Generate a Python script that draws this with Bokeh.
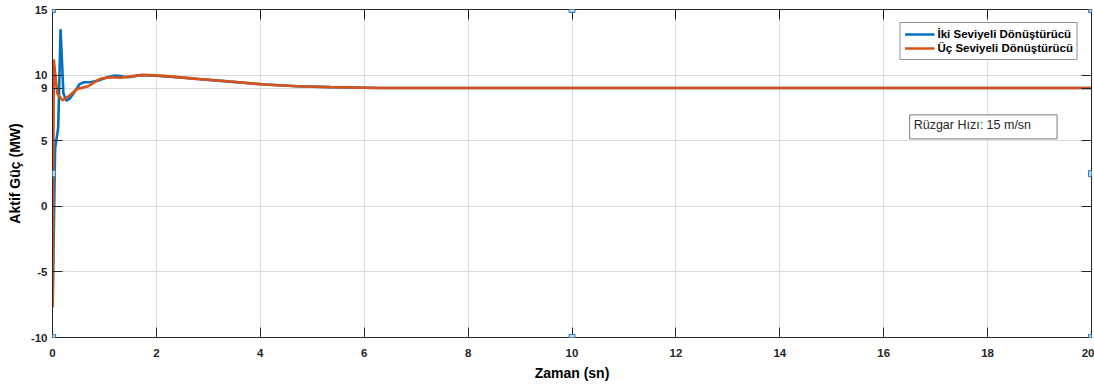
from bokeh.plotting import figure
from bokeh.models import (Range1d, LinearAxis, FixedTicker, Legend, LegendItem,
                          Label)
from bokeh.embed import file_html
from bokeh.resources import INLINE

# ---- data ----
iki_x = [0, 0.005, 0.05, 0.11, 0.155, 0.21, 0.27, 0.33, 0.42, 0.52, 0.6, 0.75,
         0.9, 1.05, 1.2, 1.35, 1.45, 1.7, 2.0, 2.2, 2.8, 3.4, 4.1, 4.7, 5.35,
         6.3, 8, 10, 12, 14, 16, 18, 20]
iki_y = [0, -7.0, 4.4, 6.0, 13.5, 8.6, 8.05, 8.2, 8.7, 9.3, 9.45, 9.47,
         9.6, 9.84, 9.97, 9.9, 9.84, 10.0, 9.95, 9.9, 9.7, 9.5, 9.28, 9.15, 9.08,
         9.02, 9.02, 9.02, 9.02, 9.02, 9.02, 9.02, 9.02]

uc_x = [0, 0.005, 0.025, 0.09, 0.19, 0.28, 0.48, 0.67, 0.92, 1.12, 1.31, 1.5,
        1.76, 2.2, 2.78, 3.43, 4.07, 4.71, 5.35, 6.3, 8, 10, 12, 14, 16, 18, 20]
uc_y = [0, -7.7, 11.2, 8.6, 8.08, 8.3, 8.95, 9.13, 9.72, 9.84, 9.8, 9.9,
        10.02, 9.92, 9.71, 9.51, 9.28, 9.15, 9.08, 9.02, 9.02, 9.02, 9.02, 9.02,
        9.02, 9.02, 9.02]

series_names = ["İki Seviyeli Dönüştürücü", "Üç Seviyeli Dönüştürücü"]
x_ticks = [0, 2, 4, 6, 8, 10, 12, 14, 16, 18, 20]
y_ticks = [-10, -5, 0, 5, 9, 10, 15]
y_tick_labels = ["-10", "-5", "0", "5", "9", "10", "15"]
x_range = (0, 20)
y_range = (-10, 15)
note_text = "Rüzgar Hızı: 15 m/sn"
x_label = "Zaman (sn)"
y_label = "Aktif Güç (MW)"

# ---- style ----
AX = "#262626"
FONT = "Liberation Sans"
BLUE = "#0072BD"
ORANGE = "#D95319"

p = figure(frame_width=1039, frame_height=328,
           x_range=Range1d(*x_range), y_range=Range1d(*y_range),
           output_backend="svg", toolbar_location=None,
           min_border_left=52, min_border_right=3, min_border_top=9,
           min_border_bottom=40)
p.background_fill_color = "white"
p.border_fill_color = "white"
p.outline_line_color = AX
p.outline_line_width = 1

r1 = p.line(iki_x, iki_y, line_color=BLUE, line_width=2.6)
r2 = p.line(uc_x, uc_y, line_color=ORANGE, line_width=2.6)

for ax in p.xaxis:
    ax.ticker = FixedTicker(ticks=x_ticks)
    ax.axis_label = x_label
for ax in p.yaxis:
    ax.ticker = FixedTicker(ticks=y_ticks)
    ax.axis_label = y_label
    ax.major_label_overrides = {t: s for t, s in zip(y_ticks, y_tick_labels)}

for ax in list(p.xaxis) + list(p.yaxis):
    ax.axis_line_color = AX
    ax.major_tick_line_color = AX
    ax.major_tick_in = 10
    ax.major_tick_out = 0
    ax.minor_tick_line_color = None
    ax.major_label_text_font = FONT
    ax.major_label_text_font_style = "bold"
    ax.major_label_text_font_size = "11.5px"
    ax.major_label_text_color = AX
    ax.axis_label_text_font = FONT
    ax.axis_label_text_font_style = "bold"
    ax.axis_label_text_font_size = "14px"
    ax.axis_label_text_color = "#000000"
p.xaxis.major_label_standoff = 11
p.xaxis.axis_label_standoff = 5
p.yaxis.major_label_standoff = 5
p.yaxis.axis_label_standoff = 5

# mirrored axes: ticks only
top = LinearAxis(ticker=FixedTicker(ticks=x_ticks))
right = LinearAxis(ticker=FixedTicker(ticks=y_ticks))
for ax in (top, right):
    ax.axis_line_color = AX
    ax.major_tick_line_color = AX
    ax.major_tick_in = 10
    ax.major_tick_out = 0
    ax.minor_tick_line_color = None
    ax.major_label_text_font_size = "0px"
    ax.major_label_standoff = 0
    ax.major_label_text_alpha = 0
p.add_layout(top, "above")
p.add_layout(right, "right")

p.xgrid.ticker = FixedTicker(ticks=x_ticks)
p.ygrid.ticker = FixedTicker(ticks=y_ticks)
p.grid.grid_line_color = "#dcdcdc"
p.grid.grid_line_width = 1

legend = Legend(items=[LegendItem(label=series_names[0], renderers=[r1]),
                       LegendItem(label=series_names[1], renderers=[r2])],
                location="top_right")
legend.margin = 13
legend.padding = 4
legend.spacing = 0
legend.label_height = 14
legend.glyph_height = 14
legend.glyph_width = 30
legend.label_standoff = 3
legend.label_text_font = FONT
legend.label_text_font_style = "bold"
legend.label_text_font_size = "11.5px"
legend.label_text_color = "#000000"
legend.border_line_color = AX
legend.border_line_width = 1
legend.background_fill_color = "white"
legend.background_fill_alpha = 1
p.add_layout(legend)

note = Label(x=16.5, y=5.14, text=note_text, anchor="bottom_left",
             text_font=FONT, text_font_size="12.5px", text_color="#262626",
             border_line_color="#7a7a7a", border_line_width=1,
             background_fill_color="white", padding=(4, 26, 3, 7))
p.add_layout(note)

# selection handles (MATLAB edit mode) at corners and mid-edges
xm = (x_range[0] + x_range[1]) / 2
ym = (y_range[0] + y_range[1]) / 2
for cx, cy in [(x_range[0], y_range[1]), (xm, y_range[1]), (x_range[1], y_range[1]),
               (x_range[0], ym), (x_range[1], ym),
               (x_range[0], y_range[0]), (xm, y_range[0]), (x_range[1], y_range[0])]:
    p.add_layout(Label(x=cx, y=cy, text="\u2003", anchor="center",
                       text_font_size="6px", padding=0, text_line_height=1.0,
                       background_fill_color="#b5dcf5", background_fill_alpha=1,
                       border_line_color="#2f7fc1", border_line_width=1))

open("out.html", "w").write(file_html(p, INLINE))
